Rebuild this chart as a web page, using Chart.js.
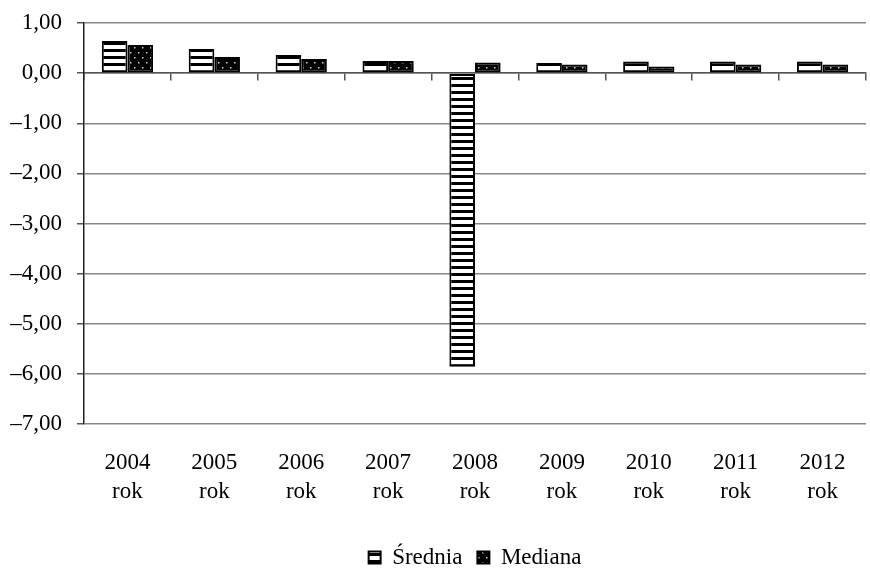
<!DOCTYPE html>
<html>
<head>
<meta charset="utf-8">
<script src="https://cdn.jsdelivr.net/npm/chart.js@4.4.1/dist/chart.umd.min.js"></script>
<style>
  html, body { margin: 0; padding: 0; background: #fff; }
  #wrap { width: 870px; height: 568px; }
</style>
</head>
<body>
<div id="wrap"><canvas id="c" width="870" height="568"></canvas></div>
<script>
// Year categories, each shown as "<year>" over "rok"
const years = ['2004', '2005', '2006', '2007', '2008', '2009', '2010', '2011', '2012'];
const seriesNames = ['Średnia', 'Mediana'];
const sredniaValues = [0.64, 0.48, 0.36, 0.24, -5.86, 0.20, 0.23, 0.23, 0.23];
const medianaValues = [0.56, 0.32, 0.28, 0.24, 0.21, 0.17, 0.13, 0.17, 0.17];
const yTickValues = [1, 0, -1, -2, -3, -4, -5, -6, -7];

const FONT = "'Liberation Serif', 'Times New Roman', serif";
const FONT_SIZE = 23;

// Horizontal stripes: white ground with black bands
function stripePattern() {
  const t = document.createElement('canvas');
  t.width = 8; t.height = 7;
  const g = t.getContext('2d');
  g.fillStyle = '#fff'; g.fillRect(0, 0, 8, 7);
  g.fillStyle = '#000'; g.fillRect(0, 0, 8, 3);
  return g.createPattern(t, 'repeat');
}
// Black ground with small light dots on staggered rows
function dotPattern() {
  const t = document.createElement('canvas');
  t.width = 8; t.height = 10;
  const g = t.getContext('2d');
  g.fillStyle = '#000'; g.fillRect(0, 0, 8, 10);
  g.fillStyle = '#d0d0d0';
  g.fillRect(2, 2, 1.5, 1.5);
  g.fillRect(6, 7, 1.5, 1.5);
  return g.createPattern(t, 'repeat');
}

const labels = years.map(y => [y, 'rok']);
const fmt = v => (v < 0 ? '\u2013' : '') + Math.abs(v).toFixed(2).replace('.', ',');

// Centre the legend under the plot area rather than the whole canvas
const legendUnderPlot = {
  id: 'legendUnderPlot',
  afterLayout(chart) {
    const lg = chart.legend;
    if (lg) {
      const shift = chart.chartArea.left - (chart.width - chart.chartArea.right);
      lg.left = shift;
      lg.right = chart.width;
    }
  }
};

new Chart(document.getElementById('c'), {
  type: 'bar',
  data: {
    labels: labels,
    datasets: [
      {
        label: seriesNames[0],
        data: sredniaValues,
        backgroundColor: stripePattern(),
        borderColor: '#000',
        borderWidth: 2,
        borderSkipped: false,
        xAxisID: 'x',
        yAxisID: 'y'
      },
      {
        label: seriesNames[1],
        data: medianaValues,
        backgroundColor: dotPattern(),
        borderColor: '#000',
        borderWidth: 2,
        borderSkipped: false,
        xAxisID: 'x',
        yAxisID: 'y'
      }
    ]
  },
  plugins: [legendUnderPlot],
  options: {
    responsive: false,
    animation: false,
    devicePixelRatio: 1,
    layout: { padding: { top: 23, right: 4, bottom: -11, left: 0 } },
    datasets: { bar: { categoryPercentage: 0.59, barPercentage: 1.0 } },
    plugins: {
      tooltip: { enabled: false },
      legend: {
        position: 'bottom',
        labels: {
          color: '#000',
          font: { family: FONT, size: FONT_SIZE },
          boxWidth: 12,
          boxHeight: 12,
          padding: 15
        }
      }
    },
    scales: {
      // axis line across zero with tick marks between categories
      x: {
        type: 'category',
        position: { y: 0 },
        offset: true,
        grid: {
          display: true,
          offset: true,
          drawOnChartArea: false,
          drawTicks: true,
          tickLength: 7,
          tickColor: '#555',
          lineWidth: 1.5
        },
        border: { display: true, color: '#555', width: 1.5 },
        ticks: { display: false }
      },
      // year labels under the plot
      x2: {
        type: 'category',
        labels: labels,
        position: 'bottom',
        offset: true,
        grid: { display: false, drawTicks: false },
        border: { display: false },
        ticks: {
          color: '#000',
          font: { family: FONT, size: FONT_SIZE, lineHeight: 1.26 },
          padding: 24,
          maxRotation: 0,
          autoSkip: false
        },
        afterFit: s => { s.height = 107; }
      },
      y: {
        min: -7,
        max: 1,
        afterBuildTicks: s => { s.ticks = yTickValues.map(v => ({ value: v })); },
        grid: {
          color: '#888',
          lineWidth: 1.5,
          tickLength: 7,
          tickColor: '#555'
        },
        border: { display: true, color: '#222', width: 1.5 },
        ticks: {
          color: '#000',
          font: { family: FONT, size: FONT_SIZE },
          padding: 15,
          callback: v => fmt(v)
        },
        afterFit: s => {
          s.width = 84;
          s.paddingTop = 0;
          s.paddingBottom = 0;
        }
      }
    }
  }
});
</script>
</body>
</html>
